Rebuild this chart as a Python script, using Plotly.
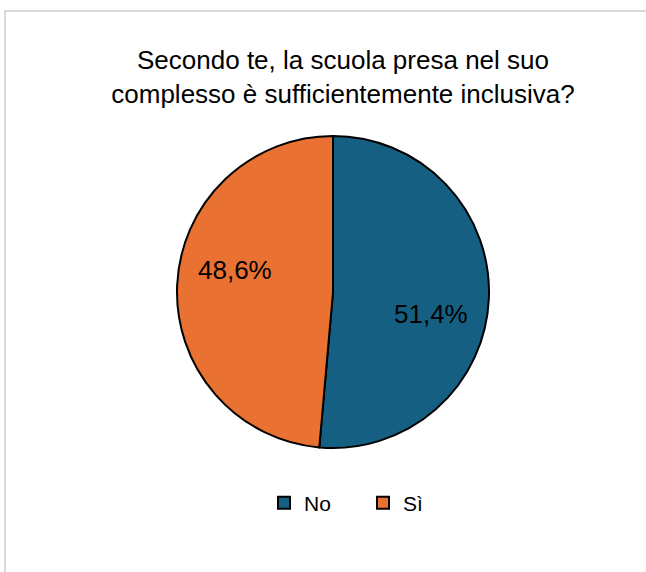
import math
import plotly.graph_objects as go

categories = ["No", "Sì"]
values = [51.4, 48.6]
colors = ["#156082", "#E97132"]
title_lines = ["Secondo te, la scuola presa nel suo", "complesso è sufficientemente inclusiva?"]

W, H = 646, 572
CX, CY, R = 333, 292, 156          # pie centre / radius in pixels
LABEL_R, LABEL_SHIFT = 100, 10     # label radius (px) and angular shift (deg)

fig = go.Figure(go.Pie(
    labels=categories,
    values=values,
    sort=False,
    direction="clockwise",
    rotation=0,
    marker=dict(colors=colors, line=dict(color="#000000", width=2)),
    textinfo="none",
    hoverinfo="label+percent",
    domain=dict(x=[(CX - R) / W, (CX + R) / W], y=[1 - (CY + R) / H, 1 - (CY - R) / H]),
))

# data labels, placed from the slice angles
total = sum(values)
start = 0.0
annotations = []
for v in values:
    frac = v / total
    mid = (start + frac / 2) * 360 + LABEL_SHIFT
    start += frac
    px = CX + LABEL_R * math.sin(math.radians(mid))
    py = CY - LABEL_R * math.cos(math.radians(mid))
    annotations.append(dict(
        x=px / W, y=1 - py / H, xref="paper", yref="paper",
        text=f"{frac * 100:.1f}%".replace(".", ","),
        showarrow=False,
        font=dict(family="Liberation Sans, Arial, sans-serif", size=26, color="#000000"),
    ))

fig.update_layout(
    width=W, height=H,
    margin=dict(l=0, r=0, t=0, b=0),
    paper_bgcolor="white",
    title=dict(
        text="<br>".join(title_lines),
        x=343 / W, xanchor="center",
        y=1 - 69 / H, yanchor="middle",
        font=dict(family="Liberation Sans, Arial, sans-serif", size=26, color="#000000"),
    ),
    legend=dict(
        orientation="h",
        x=264 / W, xanchor="left",
        y=1 - 503 / H, yanchor="middle",
        font=dict(family="Liberation Sans, Arial, sans-serif", size=21, color="#000000"),
        entrywidth=54, entrywidthmode="pixels",
        itemsizing="constant",
    ),
    annotations=annotations,
    shapes=[dict(
        type="rect", xref="paper", yref="paper",
        x0=5 / W, x1=1.05, y0=-0.05, y1=1 - 11 / H,
        line=dict(color="#d9d9d9", width=2), fillcolor="rgba(0,0,0,0)", layer="below",
    )],
)

fig.write_html("out.html", config={"displayModeBar": False},
               post_script="document.body.style.margin='0';")
